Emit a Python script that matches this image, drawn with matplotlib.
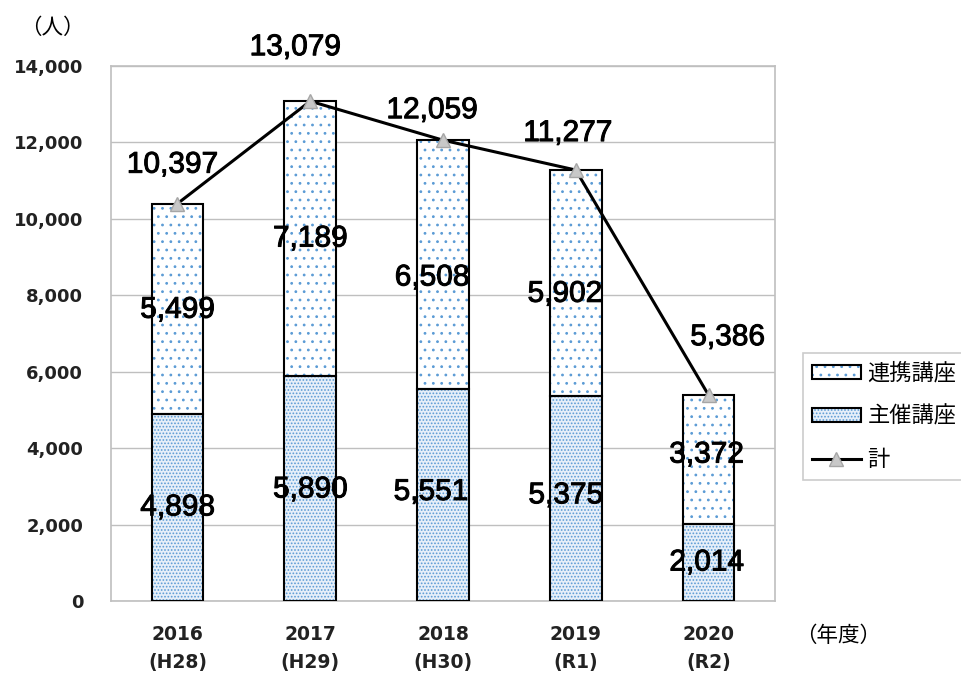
import matplotlib
matplotlib.use('Agg')
import matplotlib.pyplot as plt
import matplotlib.patheffects as pe
from matplotlib.lines import Line2D
from matplotlib.patches import Patch
from matplotlib.legend_handler import HandlerTuple
from matplotlib.ticker import FuncFormatter
import numpy as np

# data (人)
years = ['2016\n(H28)', '2017\n(H29)', '2018\n(H30)', '2019\n(R1)', '2020\n(R2)']
shusai = [4898, 5890, 5551, 5375, 2014]     # 主催講座
renkei = [5499, 7189, 6508, 5902, 3372]     # 連携講座
total = [10397, 13079, 12059, 11277, 5386]  # 計

# hand-moved data labels in the original (pixels: right, up)
total_nudge = [(-5, 39), (-15, 54), (-11, 30), (-8, 37), (19, 58)]
renkei_nudge = [(0, -1), (0, 0), (-11, -13), (-11, -11), (-2, 5)]
shusai_nudge = [(0, 0), (0, -1), (-12, 3), (-10, 3), (-2, 0)]

BLUE = '#5B9BD5'
GRID = '#BFBFBF'
LOWER_FILL = '#E6EFF9'
JP = ['Noto Sans CJK JP', 'DejaVu Sans']
NUM = ['Liberation Sans', 'DejaVu Sans']

plt.rcParams['font.family'] = ['DejaVu Sans', 'Noto Sans CJK JP']
plt.rcParams['hatch.linewidth'] = 0.8

fig = plt.figure(figsize=(9.61, 6.74), dpi=100)
ax = fig.add_axes([111 / 961, 1 - 601 / 674, 664 / 961, 535 / 674])

x = np.arange(len(years))
w = 0.39

# hatched fills first, then black outlines on top
ax.bar(x, shusai, w, color=LOWER_FILL, edgecolor=BLUE, hatch='.....', linewidth=0, zorder=2)
ax.bar(x, renkei, w, bottom=shusai, color='white', edgecolor=BLUE, hatch='..', linewidth=0, zorder=2)
ax.bar(x, shusai, w, fill=False, edgecolor='black', linewidth=1.5, zorder=3)
ax.bar(x, renkei, w, bottom=shusai, fill=False, edgecolor='black', linewidth=1.5, zorder=3)

ax.plot(x, total, color='black', lw=2.2, marker='^', ms=10,
        mfc='#C8C8C8', mec='#A6A6A6', zorder=4)

def px(v):
    return v * 0.72

bold_fx = [pe.withStroke(linewidth=0.7, foreground='black')]

def label(val, y, nudge, i):
    ax.annotate(f'{val:,}', (x[i], y), xytext=(px(nudge[0]), px(nudge[1])),
                textcoords='offset points', ha='center', va='center',
                fontsize=21.5, family=NUM, zorder=5, path_effects=bold_fx)

for i in range(len(x)):
    label(total[i], total[i], total_nudge[i], i)
    label(renkei[i], shusai[i] + renkei[i] / 2, renkei_nudge[i], i)
    label(shusai[i], shusai[i] / 2, shusai_nudge[i], i)

ax.set_xlim(-0.5, 4.5)
ax.set_ylim(0, 14000)
ax.set_yticks(np.arange(0, 14001, 2000))
ax.yaxis.set_major_formatter(FuncFormatter(lambda v, p: f'{int(v):,}'))
ax.set_xticks(x)
ax.set_xticklabels(years, linespacing=1.65)
ax.tick_params(axis='both', length=0, colors='#222222')
ax.tick_params(axis='y', pad=20, labelsize=13)
ax.tick_params(axis='x', pad=17, labelsize=13.5)
for lab in ax.get_xticklabels() + ax.get_yticklabels():
    lab.set_fontweight('bold')

ax.grid(axis='y', color=GRID, lw=1, zorder=0)
ax.set_axisbelow(True)
for s in ax.spines.values():
    s.set_color(GRID)
    s.set_linewidth(1.2)

outline = dict(facecolor='none', edgecolor='black', linewidth=1.5)
handles = [
    (Patch(facecolor='white', edgecolor=BLUE, hatch='..', linewidth=0), Patch(**outline)),
    (Patch(facecolor=LOWER_FILL, edgecolor=BLUE, hatch='.....', linewidth=0), Patch(**outline)),
    Line2D([], [], color='black', lw=2.2, marker='^', ms=10, mfc='#C8C8C8', mec='#A6A6A6'),
]
leg = fig.legend(handles, ['連携講座', '主催講座', '計'], loc='upper left',
                 bbox_to_anchor=(803 / 961, 1 - 353 / 674), borderaxespad=0,
                 prop={'family': JP, 'size': 16}, frameon=True, fancybox=False,
                 edgecolor=GRID, handlelength=2.2, handleheight=0.55, handletextpad=0.3,
                 labelspacing=0.9, borderpad=0.4, numpoints=1,
                 handler_map={tuple: HandlerTuple(ndivide=1)})
leg.get_frame().set_linewidth(1.2)

fig.text(52 / 961, 1 - 28 / 674, '（人）', ha='center', va='center', fontsize=15.5, family=JP)
fig.text(838 / 961, 1 - 636 / 674, '（年度）', ha='center', va='center', fontsize=15.5, family=JP)

fig.savefig('out.png', dpi=100, facecolor='white')
